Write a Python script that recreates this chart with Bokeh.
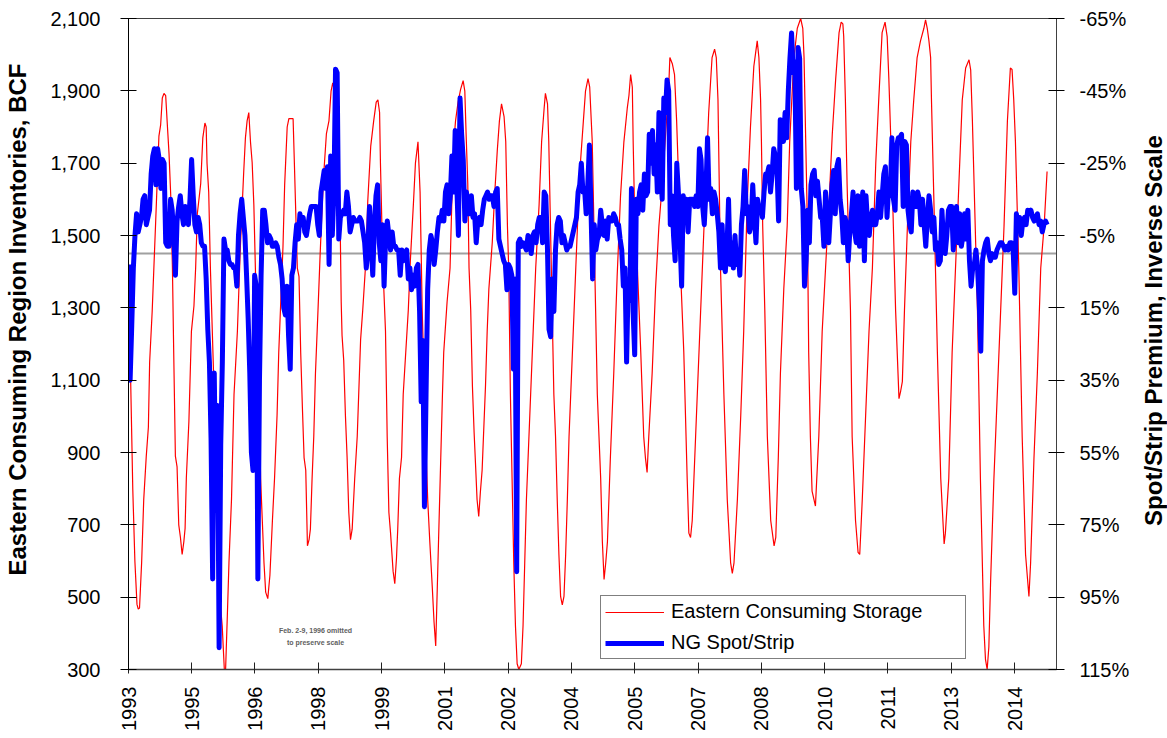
import math
import pandas as pd
from bokeh.plotting import figure
from bokeh.layouts import row
from bokeh.models import (Range1d, LinearAxis, FixedTicker, NumeralTickFormatter,
                          PrintfTickFormatter, CustomJSTickFormatter, Span, Legend,
                          LegendItem, Label)
from bokeh.embed import file_html
from bokeh.resources import INLINE

FONT = "Liberation Sans"

TITLE_LEFT = "Eastern Consuming Region Inventories, BCF"
TITLE_RIGHT = "Spot/Strip Premium, Inverse Scale"
SERIES_STORAGE = "Eastern Consuming Storage"
SERIES_PREMIUM = "NG Spot/Strip"
NOTE_LINES = ["Feb. 2-9, 1996 omitted", "to preserve scale"]

TICK_DATES = ["1993-12-17", "1995-06-17", "1996-12-16", "1998-06-17", "1999-12-17",
              "2001-06-17", "2002-12-17", "2004-06-16", "2005-12-16", "2007-06-17",
              "2008-12-16", "2010-06-17", "2011-12-17", "2013-06-17", "2014-12-17"]
TICK_LABELS = ["1993", "1995", "1996", "1998", "1999", "2001", "2002", "2004",
               "2005", "2007", "2008", "2010", "2011", "2013", "2014"]
X_END_DATE = "2015-12-15"

LEFT_TICKS = [300, 500, 700, 900, 1100, 1300, 1500, 1700, 1900, 2100]
RIGHT_TICKS = [-65, -45, -25, -5, 15, 35, 55, 75, 95, 115]
ZERO_PREMIUM = 0

# Eastern consuming region storage (decimal year, BCF)
STORAGE_YEARS = [
    1993.96, 1994.01, 1994.06, 1994.11, 1994.16, 1994.19, 1994.22, 1994.27, 1994.32, 1994.38,
    1994.43, 1994.46, 1994.52, 1994.60, 1994.68, 1994.72, 1994.76, 1994.80, 1994.84, 1994.88,
    1994.92, 1994.96, 1995.00, 1995.03, 1995.07, 1995.11, 1995.15, 1995.19, 1995.23, 1995.27,
    1995.30, 1995.33, 1995.39, 1995.45, 1995.51, 1995.55, 1995.59, 1995.67, 1995.72, 1995.77,
    1995.80, 1995.82, 1995.86, 1995.90, 1995.96, 1996.02, 1996.08, 1996.12, 1996.18, 1996.23,
    1996.26, 1996.30, 1996.34, 1996.40, 1996.46, 1996.54, 1996.61, 1996.69, 1996.73, 1996.77,
    1996.81, 1996.85, 1996.89, 1996.93, 1996.99, 1997.05, 1997.09, 1997.13, 1997.17, 1997.21,
    1997.26, 1997.31, 1997.37, 1997.42, 1997.48, 1997.52, 1997.56, 1997.62, 1997.66, 1997.72,
    1997.76, 1997.86, 1997.89, 1997.96, 1998.00, 1998.04, 1998.08, 1998.12, 1998.16, 1998.20,
    1998.24, 1998.27, 1998.31, 1998.35, 1998.39, 1998.45, 1998.50, 1998.55, 1998.59, 1998.65,
    1998.71, 1998.76, 1998.80, 1998.84, 1998.91, 1998.97, 1999.00, 1999.02, 1999.06, 1999.10,
    1999.14, 1999.18, 1999.22, 1999.26, 1999.32, 1999.38, 1999.46, 1999.51, 1999.58, 1999.63,
    1999.70, 1999.77, 1999.83, 1999.87, 1999.91, 1999.93, 1999.97, 2000.01, 2000.05, 2000.09,
    2000.13, 2000.17, 2000.23, 2000.27, 2000.31, 2000.34, 2000.38, 2000.43, 2000.47, 2000.53,
    2000.59, 2000.64, 2000.71, 2000.76, 2000.82, 2000.87, 2000.92, 2000.96, 2001.00, 2001.05,
    2001.10, 2001.16, 2001.20, 2001.24, 2001.28, 2001.32, 2001.36, 2001.40, 2001.43, 2001.51,
    2001.58, 2001.62, 2001.67, 2001.71, 2001.77, 2001.83, 2001.89, 2001.93, 2001.96, 2002.00,
    2002.03, 2002.07, 2002.11, 2002.15, 2002.19, 2002.22, 2002.26, 2002.30, 2002.34, 2002.38,
    2002.42, 2002.46, 2002.50, 2002.58, 2002.64, 2002.70, 2002.75, 2002.80, 2002.86, 2002.90,
    2002.94, 2002.97, 2003.01, 2003.05, 2003.09, 2003.13, 2003.17, 2003.21, 2003.27, 2003.31,
    2003.35, 2003.39, 2003.45, 2003.51, 2003.57, 2003.61, 2003.69, 2003.75, 2003.81, 2003.84,
    2003.89, 2003.92, 2003.96, 2004.00, 2004.04, 2004.08, 2004.12, 2004.16, 2004.20, 2004.24,
    2004.28, 2004.32, 2004.36, 2004.40, 2004.44, 2004.48, 2004.52, 2004.56, 2004.62, 2004.67,
    2004.74, 2004.79, 2004.85, 2004.89, 2004.95, 2004.99, 2005.03, 2005.07, 2005.11, 2005.15,
    2005.19, 2005.23, 2005.27, 2005.31, 2005.38, 2005.46, 2005.54, 2005.62, 2005.70, 2005.78,
    2005.82, 2005.86, 2005.90, 2005.92, 2005.95, 2006.02, 2006.10, 2006.17, 2006.21, 2006.25,
    2006.29, 2006.37, 2006.45, 2006.53, 2006.61, 2006.71, 2006.77, 2006.79, 2006.85, 2006.90,
    2006.95, 2007.00, 2007.04, 2007.12, 2007.20, 2007.24, 2007.28, 2007.32, 2007.40, 2007.48,
    2007.56, 2007.64, 2007.71, 2007.79, 2007.85, 2007.89, 2007.93, 2007.96, 2007.99, 2008.07,
    2008.15, 2008.23, 2008.27, 2008.31, 2008.39, 2008.47, 2008.54, 2008.62, 2008.70, 2008.78,
    2008.82, 2008.86, 2008.90, 2008.94, 2008.96, 2008.99, 2009.04, 2009.10, 2009.18, 2009.26,
    2009.30, 2009.36, 2009.41, 2009.49, 2009.57, 2009.63, 2009.73, 2009.81, 2009.89, 2009.94,
    2009.97, 2010.01, 2010.05, 2010.08, 2010.12, 2010.16, 2010.24, 2010.32, 2010.40, 2010.48,
    2010.56, 2010.64, 2010.72, 2010.80, 2010.85, 2010.89, 2010.91, 2010.95, 2010.99, 2011.07,
    2011.11, 2011.19, 2011.25, 2011.29, 2011.35, 2011.43, 2011.51, 2011.59, 2011.67, 2011.74,
    2011.82, 2011.89, 2011.94, 2011.98, 2012.06, 2012.14, 2012.22, 2012.26, 2012.30, 2012.35,
    2012.42, 2012.50, 2012.57, 2012.65, 2012.73, 2012.81, 2012.85, 2012.89, 2012.93, 2012.97,
    2012.99, 2013.05, 2013.13, 2013.21, 2013.29, 2013.32, 2013.40, 2013.48, 2013.56, 2013.64,
    2013.72, 2013.80, 2013.88, 2013.92, 2013.96, 2014.00, 2014.08, 2014.15, 2014.23, 2014.27,
    2014.31, 2014.35, 2014.39, 2014.47, 2014.55, 2014.63, 2014.71, 2014.79, 2014.86, 2014.90,
    2014.94, 2014.98, 2015.06, 2015.14, 2015.22, 2015.30, 2015.34, 2015.42, 2015.50, 2015.58,
    2015.66, 2015.73,
]
STORAGE_BCF = [
    1410, 1100, 800, 600, 480, 467, 470, 595, 770, 890,
    970, 1150, 1290, 1530, 1775, 1805, 1880, 1893, 1887, 1805,
    1725, 1610, 1410, 1180, 890, 860, 700, 665, 618, 653,
    690, 830, 985, 1235, 1305, 1410, 1560, 1643, 1770, 1811,
    1800, 1700, 1620, 1410, 1177, 944, 770, 502, 420, 300,
    300, 444, 595, 770, 1061, 1235, 1468, 1677, 1770, 1817,
    1840, 1759, 1701, 1584, 1293, 1061, 828, 712, 595, 514,
    496, 560, 712, 828, 1003, 1177, 1293, 1468, 1640, 1800,
    1823, 1823, 1701, 1410, 1386, 1177, 1026, 886, 851, 642,
    660, 688, 828, 944, 1119, 1293, 1445, 1584, 1677, 1782,
    1817, 1899, 1922, 1899, 1759, 1584, 1317, 1224, 1154, 1003,
    886, 735, 659, 688, 828, 944, 1212, 1293, 1421, 1596,
    1747, 1817, 1869, 1875, 1840, 1701, 1503, 1352, 1235, 944,
    735, 677, 572, 537, 607, 688, 828, 886, 1061, 1177,
    1293, 1433, 1584, 1701, 1759, 1619, 1293, 1119, 944, 770,
    653, 525, 432, 365, 537, 712, 886, 1061, 1177, 1317,
    1410, 1584, 1759, 1817, 1869, 1904, 1928, 1899, 1782, 1643,
    1410, 1293, 1084, 956, 851, 770, 723, 793, 851, 968,
    1084, 1235, 1352, 1480, 1619, 1736, 1817, 1864, 1829, 1759,
    1526, 1410, 1061, 828, 595, 421, 316, 300, 316, 421,
    595, 770, 944, 1119, 1293, 1410, 1584, 1759, 1852, 1893,
    1864, 1759, 1526, 1293, 1061, 944, 770, 618, 502, 479,
    502, 618, 770, 944, 1061, 1177, 1293, 1410, 1584, 1701,
    1817, 1899, 1934, 1910, 1759, 1526, 1293, 1061, 944, 828,
    653, 549, 595, 653, 886, 1119, 1386, 1608, 1759, 1852,
    1887, 1945, 1910, 1759, 1584, 1410, 1177, 944, 886, 845,
    944, 1119, 1352, 1526, 1643, 1817, 1933, 1992, 1974, 1945,
    1817, 1643, 1410, 1177, 828, 677, 665, 712, 944, 1177,
    1410, 1643, 1840, 1992, 2015, 1992, 1875, 1643, 1410, 1061,
    770, 595, 566, 595, 770, 1003, 1235, 1584, 1800, 1968,
    2003, 2038, 1992, 1875, 1759, 1526, 1293, 944, 712, 642,
    665, 886, 1119, 1352, 1526, 1759, 1992, 2073, 2100, 2073,
    1992, 1759, 1526, 1177, 944, 793, 752, 944, 1235, 1410,
    1584, 1782, 1933, 2061, 2090, 2085, 2050, 1875, 1643, 1293,
    944, 712, 624, 618, 770, 1003, 1235, 1410, 1701, 1875,
    2061, 2090, 2050, 1933, 1643, 1293, 1049, 1070, 1096, 1293,
    1526, 1759, 1875, 1992, 2038, 2073, 2096, 2073, 2038, 1992,
    1875, 1584, 1177, 828, 647, 677, 828, 1177, 1410, 1643,
    1875, 1963, 1986, 1957, 1817, 1643, 1293, 828, 421, 328,
    300, 362, 537, 828, 1061, 1293, 1526, 1817, 1963, 1959,
    1875, 1759, 1410, 944, 618, 502, 595, 886, 1119, 1410,
    1526, 1677,
]

# NG spot/strip premium, %, sampled every two weeks from PREMIUM_START
PREMIUM_START = "1993-12-17"
PREMIUM_FREQ = "14D"
PREMIUM_PCT = [
    3, 35, 20, 4, -5, -11, -6, -8, -10, -15,
    -16, -8, -10, -12, -22, -27, -29, -19, -29, -26,
    -18, -26, -25, -3, -2, -2, -15, -12, -4, 6,
    -9, -13, -16, -11, -8, -13, -11, -8, -15, -26,
    -16, -8, -6, -10, -8, -3, -2, -2, 7, 21,
    30, 51, 90, 33, 71, 42, 109, 53, 30, -4,
    -1, -1, 2, 3, 3, 4, 4, 9, -5, -11,
    -15, -10, -5, 6, 18, 33, 55, 60, 6, 9,
    90, 35, 6, -12, -12, -8, -3, -5, -4, -2,
    -2, -3, -2, 1, 3, 7, 15,
    17, 9, 23, 32, 6, 4, -3, -8, -4, -11,
    -8, -10, -6, -5, -8, -11, -13, -13, -13, -13,
    -8, -5, -17, -20, -23, -18, -24, 3, -27, -5,
    -17, -51, -50, -4, -10, -11, -12, -11, -17, -13,
    -6, -8, -10, -9, -9, -9, -10, -9, -6, -3,
    4, -1, -13, -3, 6, -8, -16, -19, -3, 2,
    -8, 9, -5, -9, -5, -1, -6, -2, -2, -1,
    -1, 6, -1, 2, 0, -1, 7, 4, 10, 6,
    9, 4, 3, 16, 41, 24, 70, 39, 10, -1,
    -5, -3, 3, -1, -6, -10,
    -9, -12, -9, -17, -19, -11, -16, -27, -17, -34,
    -19, -5, -43, -33, -26, -9, -17, -11, -11, -16,
    -10, -11, -3, -9, -10, -8, -12, -15, -16, -17,
    -15, -16, -16, -13, -17, -18, -4, -2, 0, 2,
    3, 10, 3, 4, 6, 32, 7, 88, -3, -4,
    -2, -3, -2, -1, -5, -4, 0, -5, -6, -3,
    -8, -10, -10, -3, -17, -16, -2, 21, 23, 7,
    16, -1, -8, -10, -9, -3, -5, -3, -1, -2,
    -2, -4, -6, -8, -10, -17, -19, -25, -17, -18,
    -11, -19, -30, -12, 7, -8,
    -1, -4, -5, -12, -8, -5, -9, -4, -10, -9,
    -9, -11, -10, -8, -8, -4, -1, 9, 4, 30,
    7, 13, -18, 16, 28, -15, -11, -17, -19, -12,
    -22, -16, -17, -33, -25, -34, -22, -30, -17, -39,
    -22, -15, -43, -39, -48, -45, -8, -16, -5, 2,
    -25, -17, -4, 9, -16, -10, -15, -6, -15, -15,
    -15, -13, -16, -13, -29, -26, -13, -8, -17, -32,
    -15, -18, -11, -17, -15, -11, -6, 4, -8, 3,
    5, -1, -15, 3, -3, 4, -5, 3, -1, 6,
    -8, -13, -23, -11, -13, -6,
    -8, -19, -10, -3, -15, -12, -13, -10, -17, -22,
    -22, -24, -17, -22, -29, -27, -24, -9, -37, -31,
    -31, -39, -32, -45, -54, -61, -50, -53, -18, -57,
    -54, -18, -13, 9, 2, -12, -3, -19, -22, -23,
    -16, -20, -15, -10, -10, -2, -17, -10, -3, -11,
    -19, -23, -11, -24, -26, -15, -11, -3, -10, -8,
    2, -6, -11, -17, -6, -3, -16, -2, -11, -17,
    2, -16, -8, -5, -10, -12, -8, -8, -11, -17,
    -10, -16, -22, -24, -10, -19, -16, -32, -15, -12,
    -30, -32, -32, -33, -13, -31,
    -30, -12, -8, -6, -17, -16, -13, -17, -15, -8,
    -15, -8, -2, -10, -16, -12, -6, -10, -1, -3,
    3, 2, -12, -3, 0, -5, -12, -13, -13, -1,
    -8, -13, -3, -11, -2, -5, -11, -4, -12, 2,
    9, 4, 3, -1, 4, 13, 27, 2, -1, -3,
    -4, 0, 2, 0, 1, 1, -1, -2, -3, -3,
    -2, -1, -2, -1, -3, -3, -1, 11, -11, -8,
    -10, -5, -9, -10, -8, -12, -11, -12, -10, -9,
    -10, -11, -8, -9, -6, -8, -9, -8,
]

assert len(STORAGE_YEARS) == len(STORAGE_BCF)


def to_year(d):
    ts = pd.Timestamp(d)
    days = 366 if ts.is_leap_year else 365
    return ts.year + (ts.dayofyear - 1) / days


tick_pos = [to_year(d) for d in TICK_DATES]
prem_dates = pd.date_range(PREMIUM_START, periods=len(PREMIUM_PCT), freq=PREMIUM_FREQ)
prem_x = [to_year(d) for d in prem_dates]

H = 738
FRAME_TOP, FRAME_BOTTOM = 18, 669
LEFT_W, RIGHT_W = 34, 32
MAIN_W = 1167 - LEFT_W - RIGHT_W

p = figure(width=MAIN_W, height=H,
           x_range=Range1d(tick_pos[0], to_year(X_END_DATE)),
           y_range=Range1d(LEFT_TICKS[0], LEFT_TICKS[-1]),
           output_backend="svg", toolbar_location=None,
           min_border_left=128 - LEFT_W, min_border_right=MAIN_W + LEFT_W - 1056,
           min_border_top=FRAME_TOP, min_border_bottom=H - FRAME_BOTTOM,
           background_fill_color="white", border_fill_color="white",
           outline_line_color="#404040", outline_line_width=1)
p.extra_y_ranges = {"pct": Range1d(RIGHT_TICKS[-1], RIGHT_TICKS[0])}
p.xgrid.visible = False
p.ygrid.visible = False

# bottom axis
xa = p.xaxis[0]
xa.ticker = FixedTicker(ticks=tick_pos)
xa.formatter = CustomJSTickFormatter(args=dict(pos=tick_pos, labels=TICK_LABELS), code="""
let best = 0;
for (let i = 0; i < pos.length; i++) {
  if (Math.abs(pos[i] - tick) < Math.abs(pos[best] - tick)) best = i;
}
return labels[best];
""")
xa.major_label_orientation = math.pi / 2
xa.major_tick_in = 7
xa.major_tick_out = 4
xa.minor_tick_line_color = None
xa.major_label_standoff = 13
xa.major_label_text_font = FONT
xa.major_label_text_font_size = "20px"
xa.major_label_text_color = "black"
xa.axis_line_color = "#404040"
xa.axis_line_width = 1.5
xa.major_tick_line_color = "#202020"

# left axis
ya = p.yaxis[0]
ya.ticker = FixedTicker(ticks=LEFT_TICKS)
ya.formatter = NumeralTickFormatter(format="0,0")
ya.major_tick_in = 8
ya.major_tick_out = 8
ya.minor_tick_line_color = None
ya.major_label_standoff = 20
ya.major_label_text_font = FONT
ya.major_label_text_font_size = "20px"
ya.major_label_text_color = "black"
ya.axis_line_color = "black"

# right axis
ra = LinearAxis(y_range_name="pct", ticker=FixedTicker(ticks=RIGHT_TICKS),
                formatter=PrintfTickFormatter(format="%d%%"))
ra.major_tick_in = 8
ra.major_tick_out = 8
ra.minor_tick_line_color = None
ra.major_label_standoff = 15
ra.major_label_text_font = FONT
ra.major_label_text_font_size = "20px"
ra.major_label_text_color = "black"
ra.axis_line_color = "#404040"
p.add_layout(ra, "right")

zero = Span(location=ZERO_PREMIUM, dimension="width", y_range_name="pct",
            line_color="#A0A0A0", line_width=2, level="underlay")
p.add_layout(zero)

r_red = p.line(STORAGE_YEARS, STORAGE_BCF, line_color="#FF0000", line_width=1.2)
r_blue = p.line(prem_x, PREMIUM_PCT, y_range_name="pct", line_color="#0000FF",
                line_width=5, line_join="round")

legend = Legend(items=[LegendItem(label=SERIES_STORAGE, renderers=[r_red]),
                       LegendItem(label=SERIES_PREMIUM, renderers=[r_blue])],
                location=(472, 10), orientation="vertical",
                padding=4, spacing=8, margin=0,
                glyph_width=59, glyph_height=20, label_height=20, label_width=290,
                label_standoff=7,
                label_text_font=FONT, label_text_font_size="20px", label_text_color="black",
                border_line_color="black", border_line_width=1,
                background_fill_color="white", background_fill_alpha=1)
p.add_layout(legend)

for txt, yy in zip(NOTE_LINES, [39, 27]):
    p.add_layout(Label(x=187, y=yy, x_units="screen", y_units="screen", text=txt,
                       text_align="center", text_baseline="middle",
                       text_font=FONT, text_font_size="7px", text_font_style="bold",
                       text_color="#606060"))


def title_strip(width, text, x_in_strip, center_from_top):
    # the row layout aligns this strip's frame with the main frame (18..669)
    f = figure(width=width, height=H, output_backend="svg", toolbar_location=None,
               x_axis_type=None, y_axis_type=None, min_border=0,
               x_range=Range1d(0, 1), y_range=Range1d(0, 1),
               background_fill_color="white", border_fill_color="white",
               outline_line_color=None)
    f.xgrid.visible = False
    f.ygrid.visible = False
    f.add_layout(Label(x=x_in_strip, y=FRAME_BOTTOM - center_from_top, x_units="screen",
                       y_units="screen", angle=math.pi / 2, text=text,
                       text_align="center", text_baseline="alphabetic",
                       text_font=FONT, text_font_size="24px", text_font_style="bold",
                       text_color="black"))
    return f


left_strip = title_strip(LEFT_W, TITLE_LEFT, 17, 319)
right_strip = title_strip(RIGHT_W, TITLE_RIGHT, 1153 - (1167 - RIGHT_W), 330)

layout = row(left_strip, p, right_strip, spacing=0)
open("out.html", "w").write(file_html(layout, INLINE))
